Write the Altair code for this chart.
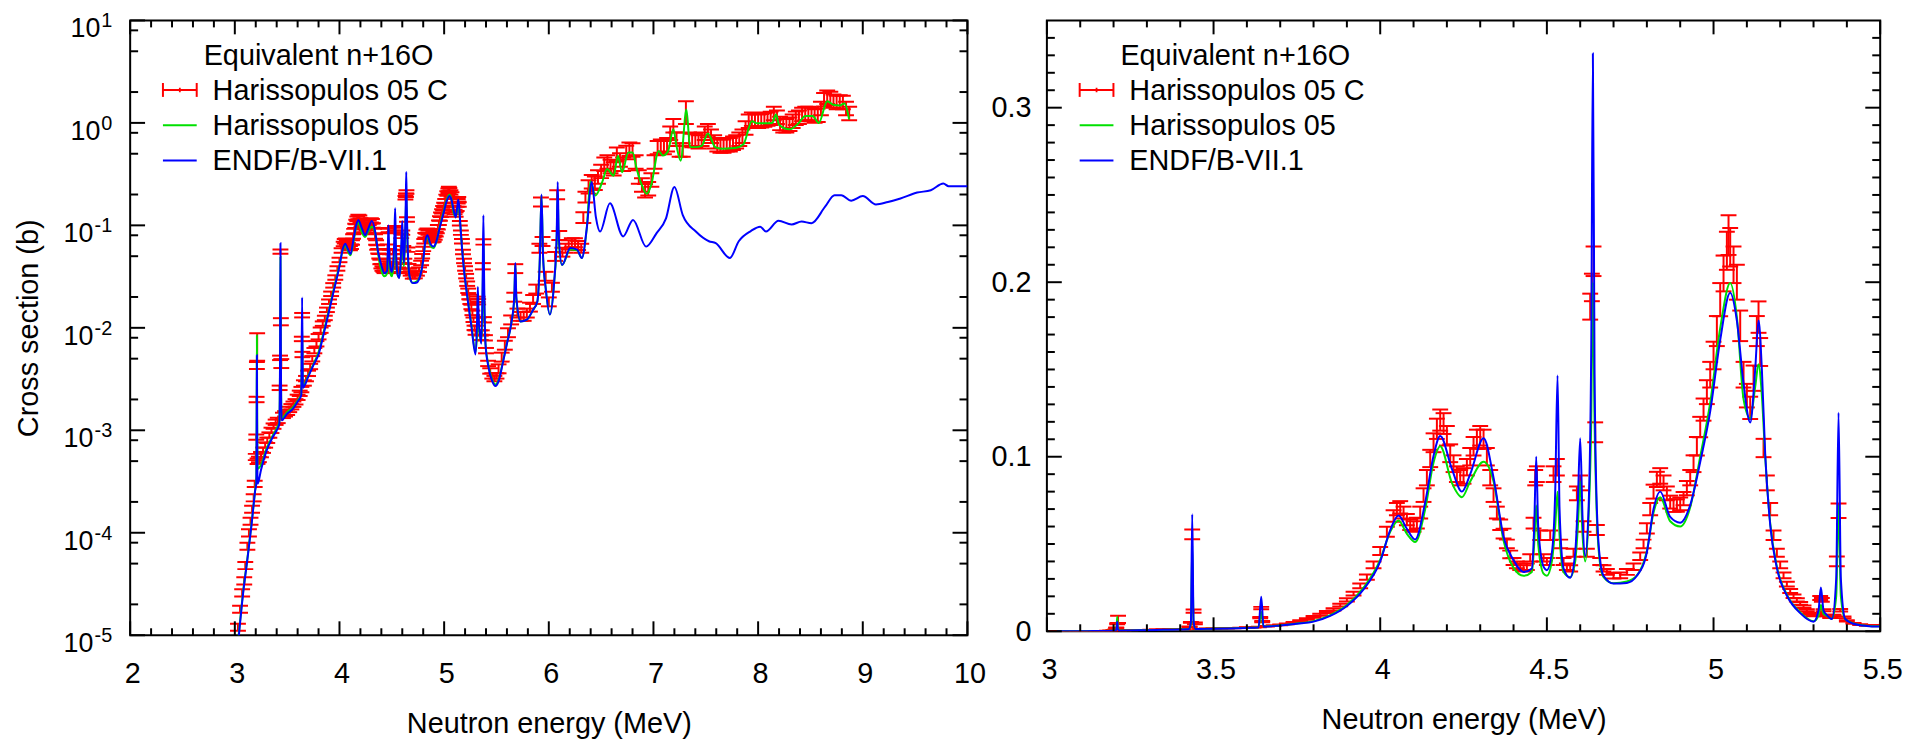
import altair as alt
import pandas as pd

FONT = "Liberation Sans"
RED, GREEN, BLUE = "#ff0000", "#00e000", "#0000ff"
FS = 29

# ---------------- ENDF/B-VII.1 (blue) ----------------
endf_E = [
    3.03, 3.08, 3.12, 3.16, 3.195, 3.206, 3.209, 3.211, 3.213, 3.218,
    3.25, 3.30, 3.36, 3.40, 3.425, 3.432, 3.436, 3.440, 3.446, 3.50,
    3.55, 3.60, 3.635, 3.643, 3.650, 3.70, 3.75, 3.80, 3.85, 3.90,
    3.95, 4.00, 4.03, 4.055, 4.08, 4.105, 4.135, 4.16, 4.18, 4.215,
    4.245, 4.27, 4.31, 4.34, 4.37, 4.40, 4.43, 4.455, 4.462, 4.468,
    4.474, 4.49, 4.50, 4.515, 4.525, 4.532, 4.538, 4.55, 4.57, 4.585,
    4.593, 4.600, 4.607, 4.615, 4.625, 4.633, 4.638, 4.643, 4.65, 4.66,
    4.67, 4.70, 4.74, 4.77, 4.80, 4.82, 4.84, 4.87, 4.90, 4.93,
    4.96, 4.99, 5.02, 5.05, 5.07, 5.09, 5.11, 5.125, 5.135, 5.145,
    5.155, 5.17, 5.19, 5.22, 5.26, 5.30, 5.315, 5.322, 5.33, 5.34,
    5.355, 5.368, 5.375, 5.382, 5.395, 5.42, 5.46, 5.49, 5.52, 5.56,
    5.60, 5.64, 5.67, 5.68, 5.69, 5.73, 5.79, 5.85, 5.89, 5.915,
    5.93, 5.945, 5.97, 6.01, 6.05, 6.075, 6.085, 6.095, 6.126, 6.205,
    6.27, 6.316, 6.363, 6.41, 6.45, 6.49, 6.584, 6.71, 6.805, 6.93,
    7.03, 7.12, 7.20, 7.28, 7.405, 7.53, 7.595, 7.73, 7.815, 7.93,
    8.02, 8.075, 8.195, 8.32, 8.415, 8.51, 8.64, 8.73, 8.795, 8.89,
    9.0, 9.126, 9.24, 9.36, 9.52, 9.65, 9.77, 9.82, 10.0,
]
endf_xs = [
    8.0e-6, 2.6e-5, 5.5e-5, 1.2e-4, 2.6e-4, 3.1e-4, 1.5e-3, 5.4e-3, 1.2e-3, 3.0e-4,
    4.1e-4, 6.2e-4, 8.5e-4, 1.0e-3, 1.15e-3, 5.0e-3, 0.067, 6.0e-3, 1.25e-3, 1.45e-3,
    1.6e-3, 1.9e-3, 2.2e-3, 0.0198, 2.6e-3, 3.3e-3, 4.3e-3, 5.5e-3, 8.8e-3, 0.0145,
    0.024, 0.040, 0.058, 0.0663, 0.0587, 0.0526, 0.0739, 0.1005, 0.1119, 0.093,
    0.080, 0.090, 0.1106, 0.088, 0.0543, 0.0408, 0.034, 0.036, 0.060, 0.100,
    0.060, 0.037, 0.035, 0.045, 0.080, 0.1466, 0.070, 0.036, 0.0306, 0.045,
    0.075, 0.1106, 0.065, 0.043, 0.070, 0.160, 0.331, 0.150, 0.070, 0.040,
    0.0318, 0.0273, 0.0277, 0.0318, 0.0453, 0.070, 0.080, 0.0655, 0.0622, 0.0723,
    0.097, 0.126, 0.1669, 0.1939, 0.178, 0.142, 0.1196, 0.150, 0.178, 0.150,
    0.1016, 0.061, 0.0363, 0.0205, 0.0104, 0.0055, 0.012, 0.025, 0.012, 0.0092,
    0.007, 0.030, 0.1252, 0.030, 0.007, 0.0043, 0.0030, 0.0027, 0.0030, 0.0045,
    0.0070, 0.0108, 0.020, 0.043, 0.020, 0.0115, 0.012, 0.015, 0.018, 0.050,
    0.200, 0.050, 0.0245, 0.0135, 0.027, 0.080, 0.265, 0.080, 0.041, 0.060,
    0.058, 0.048, 0.094, 0.265, 0.120, 0.087, 0.164, 0.078, 0.113, 0.062,
    0.084, 0.117, 0.237, 0.126, 0.087, 0.070, 0.067, 0.048, 0.070, 0.088,
    0.097, 0.087, 0.111, 0.102, 0.109, 0.105, 0.152, 0.197, 0.197, 0.174,
    0.193, 0.160, 0.169, 0.183, 0.209, 0.220, 0.256, 0.241, 0.241,
]

# ---------------- Harissopulos 05 (green) ----------------
h05_E = [
    3.03, 3.08, 3.12, 3.16, 3.195, 3.206, 3.209, 3.211, 3.213, 3.218,
    3.25, 3.30, 3.36, 3.40, 3.425, 3.432, 3.436, 3.440, 3.446, 3.50,
    3.55, 3.60, 3.635, 3.643, 3.650, 3.70, 3.75, 3.80, 3.85, 3.90,
    3.95, 4.00, 4.03, 4.055, 4.08, 4.105, 4.135, 4.16, 4.18, 4.215,
    4.245, 4.27, 4.31, 4.34, 4.37, 4.40, 4.43, 4.455, 4.462, 4.468,
    4.474, 4.49, 4.50, 4.515, 4.525, 4.532, 4.538, 4.55, 4.57, 4.585,
    4.593, 4.600, 4.607, 4.615, 4.625, 4.633, 4.638, 4.643, 4.65, 4.66,
    4.67, 4.70, 4.74, 4.77, 4.80, 4.82, 4.84, 4.87, 4.90, 4.93,
    4.96, 4.99, 5.02, 5.05, 5.07, 5.09, 5.11, 5.125, 5.135, 5.145,
    5.155, 5.17, 5.19, 5.22, 5.26, 5.30, 5.315, 5.322, 5.33, 5.34,
    5.355, 5.368, 5.375, 5.382, 5.395, 5.42, 5.46, 5.49, 5.52, 5.56,
    5.60, 5.64, 5.67, 5.68, 5.69, 5.73, 5.79, 5.85, 5.89, 5.915,
    5.93, 5.945, 5.97, 6.01, 6.05, 6.075, 6.085, 6.095, 6.126, 6.205,
    6.27, 6.316, 6.363, 6.397, 6.445, 6.51, 6.557, 6.62, 6.66, 6.70,
    6.76, 6.80, 6.84, 6.89, 6.936, 6.977, 7.05, 7.09, 7.14, 7.19,
    7.22, 7.26, 7.315, 7.35, 7.40, 7.46, 7.52, 7.59, 7.65, 7.78,
    7.86, 7.94, 7.99, 8.07, 8.135, 8.17, 8.20, 8.30, 8.39, 8.45,
    8.52, 8.58, 8.66, 8.72, 8.78, 8.825, 8.87,
]
h05_xs = [
    8.5e-6, 2.7e-5, 5.6e-5, 1.25e-4, 2.7e-4, 3.6e-4, 2.0e-3, 8.4e-3, 2.0e-3, 4.2e-4,
    4.6e-4, 6.5e-4, 8.8e-4, 1.05e-3, 1.2e-3, 4.0e-3, 0.049, 5.0e-3, 1.3e-3, 1.5e-3,
    1.65e-3, 1.95e-3, 2.25e-3, 0.0112, 2.7e-3, 3.4e-3, 4.4e-3, 5.8e-3, 9.2e-3, 0.015,
    0.025, 0.041, 0.057, 0.0634, 0.0558, 0.0511, 0.070, 0.0967, 0.106, 0.085,
    0.0768, 0.0858, 0.0971, 0.0858, 0.052, 0.0363, 0.0318, 0.034, 0.050, 0.072,
    0.050, 0.033, 0.0318, 0.040, 0.060, 0.080, 0.055, 0.034, 0.031, 0.040,
    0.060, 0.086, 0.055, 0.040, 0.065, 0.120, 0.200, 0.120, 0.065, 0.038,
    0.031, 0.0275, 0.0285, 0.032, 0.046, 0.068, 0.0768, 0.063, 0.060, 0.071,
    0.100, 0.131, 0.1736, 0.1995, 0.180, 0.133, 0.122, 0.140, 0.153, 0.135,
    0.100, 0.062, 0.037, 0.021, 0.0108, 0.0058, 0.009, 0.015, 0.010, 0.0088,
    0.0072, 0.020, 0.072, 0.020, 0.007, 0.0045, 0.0031, 0.0028, 0.0031, 0.0046,
    0.0071, 0.0108, 0.019, 0.041, 0.019, 0.0115, 0.012, 0.015, 0.018, 0.050,
    0.197, 0.050, 0.0245, 0.0135, 0.027, 0.070, 0.200, 0.070, 0.041, 0.058,
    0.057, 0.048, 0.094, 0.270, 0.196, 0.264, 0.355, 0.305, 0.479, 0.330,
    0.514, 0.514, 0.355, 0.245, 0.203, 0.245, 0.533, 0.480, 0.533, 0.865,
    0.597, 0.428, 1.35, 0.580, 0.580, 0.597, 0.790, 0.580, 0.560, 0.570,
    0.620, 1.04, 0.99, 0.99, 1.00, 1.21, 0.96, 0.865, 1.00, 1.17,
    1.17, 1.00, 1.63, 1.50, 1.48, 1.55, 1.08,
]

# ---------------- Harissopulos 05 C (red, with error bars) ----------------
hc_E = [
    3.03, 3.05, 3.07, 3.09, 3.10, 3.12, 3.135, 3.15, 3.165, 3.18,
    3.19, 3.20, 3.205, 3.208, 3.211, 3.2135, 3.217, 3.23, 3.25, 3.27,
    3.29, 3.31, 3.33, 3.35, 3.37, 3.39, 3.41, 3.428, 3.432, 3.436,
    3.440, 3.444, 3.46, 3.48, 3.50, 3.52, 3.54, 3.56, 3.58, 3.60,
    3.62, 3.636, 3.640, 3.643, 3.646, 3.66, 3.68, 3.70, 3.72, 3.74,
    3.76, 3.78, 3.80, 3.82, 3.84, 3.86, 3.88, 3.90, 3.92, 3.94,
    3.96, 3.98, 4.00, 4.02, 4.04, 4.05, 4.06, 4.07, 4.08, 4.09,
    4.10, 4.11, 4.12, 4.13, 4.14, 4.15, 4.16, 4.17, 4.18, 4.19,
    4.20, 4.21, 4.22, 4.23, 4.24, 4.25, 4.26, 4.27, 4.28, 4.29,
    4.30, 4.31, 4.32, 4.33, 4.34, 4.35, 4.36, 4.37, 4.38, 4.39,
    4.40, 4.41, 4.42, 4.43, 4.44, 4.45, 4.46, 4.465, 4.47, 4.48,
    4.49, 4.50, 4.51, 4.52, 4.53, 4.54, 4.55, 4.56, 4.57, 4.58,
    4.59, 4.60, 4.61, 4.62, 4.630, 4.635, 4.640, 4.645, 4.650, 4.66,
    4.67, 4.68, 4.70, 4.72, 4.74, 4.76, 4.78, 4.79, 4.80, 4.81,
    4.82, 4.83, 4.84, 4.85, 4.86, 4.87, 4.88, 4.89, 4.90, 4.91,
    4.92, 4.93, 4.94, 4.95, 4.96, 4.97, 4.98, 4.99, 5.00, 5.01,
    5.02, 5.03, 5.04, 5.045, 5.05, 5.06, 5.07, 5.08, 5.09, 5.10,
    5.11, 5.12, 5.13, 5.135, 5.14, 5.15, 5.16, 5.17, 5.18, 5.19,
    5.20, 5.21, 5.22, 5.23, 5.24, 5.25, 5.26, 5.27, 5.28, 5.29,
    5.30, 5.31, 5.32, 5.325, 5.33, 5.34, 5.35, 5.36, 5.37, 5.375,
    5.38, 5.39, 5.40, 5.42, 5.44, 5.46, 5.48, 5.50, 5.52, 5.55,
    5.58, 5.61, 5.64, 5.67, 5.68, 5.70, 5.73, 5.76, 5.79, 5.82,
    5.85, 5.88, 5.91, 5.925, 5.94, 5.97, 6.00, 6.03, 6.06, 6.08,
    6.10, 6.13, 6.16, 6.19, 6.22, 6.25, 6.28, 6.31, 6.33, 6.35,
    6.38, 6.41, 6.44, 6.47, 6.50, 6.53, 6.56, 6.59, 6.62, 6.65,
    6.68, 6.71, 6.74, 6.77, 6.80, 6.83, 6.86, 6.89, 6.92, 6.95,
    6.98, 7.01, 7.04, 7.07, 7.10, 7.13, 7.16, 7.19, 7.22, 7.25,
    7.28, 7.31, 7.34, 7.37, 7.40, 7.43, 7.46, 7.49, 7.52, 7.55,
    7.58, 7.61, 7.64, 7.67, 7.70, 7.73, 7.76, 7.79, 7.82, 7.85,
    7.88, 7.91, 7.94, 7.97, 8.00, 8.03, 8.06, 8.09, 8.12, 8.15,
    8.18, 8.21, 8.24, 8.27, 8.30, 8.33, 8.36, 8.39, 8.42, 8.45,
    8.48, 8.51, 8.54, 8.57, 8.60, 8.63, 8.66, 8.69, 8.72, 8.75,
    8.78, 8.81, 8.84, 8.87,
]
hc_xs = [
    1.2e-5, 1.8e-5, 2.6e-5, 3.4e-5, 4.8e-5, 7.4e-5, 1.0e-4, 1.3e-4, 1.7e-4, 2.2e-4,
    3.0e-4, 5.5e-4, 8.6e-4, 2.0e-3, 4.3e-3, 6.8e-3, 5.0e-4, 5.2e-4, 5.8e-4, 6.4e-4,
    7.2e-4, 8.0e-4, 9.0e-4, 1.0e-3, 1.1e-3, 1.2e-3, 1.25e-3, 2.6e-3, 5.1e-3, 0.0555,
    0.0115, 4.5e-3, 1.4e-3, 1.45e-3, 1.5e-3, 1.6e-3, 1.7e-3, 1.8e-3, 1.9e-3, 2.1e-3,
    2.3e-3, 2.5e-3, 7.8e-3, 0.0133, 5.5e-3, 2.9e-3, 3.2e-3, 3.6e-3, 4.2e-3, 5.0e-3,
    6.0e-3, 7.0e-3, 8.2e-3, 9.5e-3, 0.011, 0.0125, 0.015, 0.018, 0.0215, 0.026,
    0.031, 0.038, 0.046, 0.057, 0.066, 0.070, 0.071, 0.068, 0.064, 0.061,
    0.060, 0.062, 0.068, 0.078, 0.088, 0.099, 0.108, 0.116, 0.121, 0.119,
    0.112, 0.102, 0.096, 0.090, 0.088, 0.089, 0.094, 0.100, 0.106, 0.110,
    0.112, 0.110, 0.100, 0.088, 0.078, 0.068, 0.061, 0.056, 0.050, 0.044,
    0.040, 0.038, 0.037, 0.036, 0.037, 0.042, 0.062, 0.088, 0.090, 0.055,
    0.042, 0.040, 0.055, 0.090, 0.094, 0.050, 0.040, 0.037, 0.036, 0.045,
    0.079, 0.085, 0.060, 0.045, 0.186, 0.197, 0.212, 0.114, 0.058, 0.040,
    0.036, 0.034, 0.0318, 0.032, 0.034, 0.037, 0.043, 0.050, 0.059, 0.070,
    0.080, 0.087, 0.089, 0.085, 0.079, 0.074, 0.072, 0.072, 0.073, 0.076,
    0.082, 0.088, 0.096, 0.106, 0.117, 0.127, 0.137, 0.147, 0.158, 0.172,
    0.190, 0.205, 0.218, 0.227, 0.220, 0.210, 0.200, 0.175, 0.147, 0.135,
    0.128, 0.145, 0.172, 0.180, 0.160, 0.105, 0.085, 0.070, 0.055, 0.045,
    0.038, 0.032, 0.027, 0.023, 0.020, 0.018, 0.016, 0.014, 0.012, 0.010,
    0.009, 0.010, 0.019, 0.018, 0.012, 0.009, 0.008, 0.009, 0.040, 0.069,
    0.012, 0.008, 0.006, 0.0045, 0.0038, 0.0034, 0.0032, 0.0034, 0.0040, 0.0052,
    0.0068, 0.0090, 0.012, 0.020, 0.038, 0.014, 0.013, 0.013, 0.014, 0.016,
    0.019, 0.024, 0.060, 0.17, 0.07, 0.032, 0.018, 0.025, 0.05, 0.20,
    0.08, 0.055, 0.060, 0.065, 0.068, 0.068, 0.064, 0.060, 0.12, 0.19,
    0.24, 0.27, 0.26, 0.30, 0.34, 0.40, 0.42, 0.38, 0.36, 0.50,
    0.44, 0.40, 0.52, 0.56, 0.55, 0.42, 0.30, 0.25, 0.22, 0.23,
    0.28, 0.42, 0.58, 0.60, 0.58, 0.62, 0.80, 0.95, 0.70, 0.55,
    0.55, 1.30, 0.70, 0.68, 0.68, 0.66, 0.70, 0.80, 0.85, 0.75,
    0.66, 0.62, 0.60, 0.60, 0.62, 0.62, 0.64, 0.66, 0.70, 0.75,
    0.90, 1.05, 1.10, 1.08, 1.05, 1.06, 1.08, 1.10, 1.12, 1.25,
    1.15, 1.00, 0.95, 0.95, 0.98, 1.05, 1.12, 1.15, 1.22, 1.25,
    1.25, 1.22, 1.18, 1.20, 1.40, 1.70, 1.80, 1.75, 1.65, 1.60,
    1.62, 1.60, 1.40, 1.25,
]
hc_err_pct = [
    8, 8, 8, 8, 8, 8, 8, 8, 8, 8,
    7, 7, 6, 6, 8, 30, 6, 6, 6, 6,
    6, 6, 6, 6, 6, 6, 6, 5, 5, 5,
    8, 10, 6, 6, 6, 6, 6, 6, 6, 6,
    6, 6, 5, 5, 6, 6, 6, 6, 6, 6,
    6, 6, 6, 6, 5, 5, 5, 5, 5, 5,
    5, 5, 5, 5, 5, 5, 5, 5, 5, 5,
    5, 5, 5, 5, 5, 5, 5, 5, 5, 5,
    5, 5, 5, 5, 5, 5, 5, 5, 5, 5,
    5, 5, 5, 5, 5, 5, 5, 5, 5, 5,
    5, 5, 5, 5, 5, 5, 5, 5, 5, 5,
    5, 5, 5, 5, 5, 5, 5, 5, 5, 5,
    5, 5, 5, 5, 4, 4, 4, 5, 5, 5,
    5, 5, 5, 5, 5, 5, 5, 5, 5, 5,
    5, 5, 5, 5, 5, 5, 5, 5, 5, 5,
    5, 5, 5, 5, 5, 5, 5, 5, 5, 5,
    5, 5, 5, 5, 5, 5, 5, 5, 5, 5,
    5, 5, 5, 5, 5, 5, 5, 5, 5, 5,
    5, 5, 5, 5, 5, 5, 5, 5, 5, 5,
    5, 5, 6, 6, 5, 5, 5, 5, 7, 6,
    6, 6, 6, 6, 6, 6, 6, 6, 10, 10,
    10, 10, 10, 10, 10, 10, 10, 10, 10, 10,
    10, 10, 10, 10, 10, 10, 10, 10, 10, 10,
    10, 10, 10, 10, 10, 10, 10, 10, 12, 12,
    15, 15, 15, 15, 15, 15, 15, 15, 15, 15,
    15, 15, 15, 15, 15, 15, 15, 15, 15, 15,
    15, 15, 15, 15, 15, 15, 15, 15, 15, 15,
    15, 25, 15, 15, 15, 15, 15, 15, 15, 15,
    15, 15, 15, 15, 15, 15, 15, 15, 15, 15,
    15, 15, 15, 15, 15, 15, 15, 15, 15, 15,
    15, 15, 15, 15, 15, 15, 15, 15, 15, 15,
    15, 15, 15, 15, 15, 15, 15, 15, 15, 15,
    15, 15, 15, 15,
]

# ---------------- axes: tick values and labels ----------------
left_x_major = [2, 3, 4, 5, 6, 7, 8, 9, 10]
left_x_minor = [round(2 + 0.2 * i, 1) for i in range(41) if i % 5]
left_y_major = [1e-5, 1e-4, 1e-3, 1e-2, 1e-1, 1.0, 10.0]
left_y_exp = ["-5", "-4", "-3", "-2", "-1", "0", "1"]
left_y_minor = [m * 10.0 ** k for k in range(-5, 1) for m in (2, 5, 8)]

right_x_major = [3, 3.5, 4, 4.5, 5, 5.5]
right_x_minor = [round(3 + 0.1 * i, 1) for i in range(26) if i % 5]
right_y_major = [0, 0.1, 0.2, 0.3]
right_y_minor = [round(0.01 * i, 2) for i in range(1, 35) if i % 10]

legend_title = "Equivalent n+16O"
series_names = ["Harissopulos 05 C", "Harissopulos 05", "ENDF/B-VII.1"]

# ---------------- frames ----------------
endf = pd.DataFrame({"E": endf_E, "xs": endf_xs})
h05 = pd.DataFrame({"E": h05_E, "xs": h05_xs})
hc = pd.DataFrame({"E": hc_E, "xs": hc_xs, "pct": hc_err_pct})
hc["lo"] = hc["xs"] * (1 - hc["pct"] / 100.0)
hc["hi"] = hc["xs"] * (1 + hc["pct"] / 100.0)
hc_caps = pd.concat(
    [pd.DataFrame({"E": hc["E"], "v": hc["lo"]}), pd.DataFrame({"E": hc["E"], "v": hc["hi"]})],
    ignore_index=True,
)
one = pd.DataFrame({"k": [0]})


def legend_layers():
    L = []
    L.append(alt.Chart(one).mark_text(align="left", baseline="middle", fontSize=FS, color="black",
                                      text=legend_title).encode(x=alt.value(74), y=alt.value(36)))
    for name, yy in zip(series_names, (71, 106.5, 142)):
        L.append(alt.Chart(one).mark_text(align="left", baseline="middle", fontSize=FS, color="black",
                                          text=name).encode(x=alt.value(83), y=alt.value(yy)))
    # red error-bar symbol
    L.append(alt.Chart(one).mark_rule(color=RED, strokeWidth=2).encode(
        x=alt.value(33), x2=alt.value(67), y=alt.value(70)))
    L.append(alt.Chart(one).mark_rule(color=RED, strokeWidth=2).encode(
        x=alt.value(33), y=alt.value(63), y2=alt.value(77)))
    L.append(alt.Chart(one).mark_rule(color=RED, strokeWidth=2).encode(
        x=alt.value(67), y=alt.value(63), y2=alt.value(77)))
    L.append(alt.Chart(one).mark_point(shape="cross", size=20, filled=True, color=RED, opacity=1).encode(
        x=alt.value(50), y=alt.value(70)))
    L.append(alt.Chart(one).mark_rule(color=GREEN, strokeWidth=2).encode(
        x=alt.value(33), x2=alt.value(67), y=alt.value(105.5)))
    L.append(alt.Chart(one).mark_rule(color=BLUE, strokeWidth=2).encode(
        x=alt.value(33), x2=alt.value(67), y=alt.value(141)))
    return L


def panel(W, H, xs, ys, xaxis, yaxis, emax, xt_major, xt_minor, yt_major, yt_minor, extra):
    def X(f):
        return alt.X(f, type="quantitative", scale=xs, axis=xaxis)

    def Y(f):
        return alt.Y(f, type="quantitative", scale=ys, axis=yaxis)

    def sub(df):
        return df[df["E"] <= emax]

    layers = [
        alt.Chart(sub(hc)).mark_rule(color=RED, strokeWidth=2, clip=True).encode(
            x=X("E"), y=Y("lo"), y2=alt.Y2("hi")),
        alt.Chart(sub(hc_caps)).mark_tick(color=RED, orient="horizontal", size=16, thickness=2,
                                          clip=True, opacity=1).encode(x=X("E"), y=Y("v")),
        alt.Chart(sub(h05)).mark_line(color=GREEN, strokeWidth=2, clip=True,
                                      interpolate="monotone").encode(x=X("E"), y=Y("xs")),
        alt.Chart(sub(endf)).mark_line(color=BLUE, strokeWidth=2, clip=True,
                                       interpolate="monotone").encode(x=X("E"), y=Y("xs")),
    ]
    for vals, L in ((xt_major, 14), (xt_minor, 7)):
        d = pd.DataFrame({"v": vals})
        layers.append(alt.Chart(d).mark_rule(color="black", strokeWidth=2).encode(
            x=X("v"), y=alt.value(H), y2=alt.value(H - L)))
        layers.append(alt.Chart(d).mark_rule(color="black", strokeWidth=2).encode(
            x=X("v"), y=alt.value(0), y2=alt.value(L)))
    for vals, L in ((yt_major, 15), (yt_minor, 8)):
        d = pd.DataFrame({"v": vals})
        layers.append(alt.Chart(d).mark_rule(color="black", strokeWidth=2).encode(
            y=Y("v"), x=alt.value(0), x2=alt.value(L)))
        layers.append(alt.Chart(d).mark_rule(color="black", strokeWidth=2).encode(
            y=Y("v"), x=alt.value(W), x2=alt.value(W - L)))
    layers += legend_layers()
    layers += [e(Y) for e in extra]
    return alt.layer(*layers).properties(width=W, height=H)


def xaxis_for(values, fmt):
    return alt.Axis(values=values, format=fmt, title="Neutron energy (MeV)", ticks=False, domain=False,
                    grid=False, labelFontSize=FS, labelPadding=25, labelOffset=2, labelFlush=False,
                    labelOverlap=False, titleFontSize=FS, titleFontWeight="normal", titlePadding=21,
                    labelColor="black", titleColor="black")


# ---------------- left panel (log) ----------------
LW, LH = 843, 619
l_xs = alt.Scale(domain=[2, 10], nice=False, zero=False)
l_ys = alt.Scale(type="log", domain=[1e-5, 10], nice=False)
l_yaxis = alt.Axis(labels=False, ticks=False, domain=False, grid=False, title="Cross section (b)",
                   titleFontSize=FS, titleFontWeight="normal", titlePadding=87, titleColor="black")
ylab = pd.DataFrame({"v": left_y_major, "exp": left_y_exp})


def lab_neg(Y):
    return alt.Chart(ylab[ylab["v"] < 1]).mark_text(align="right", baseline="middle", fontSize=27,
                                                   dy=9, text="10", color="black").encode(
        x=alt.value(-37), y=Y("v"))


def lab_pos(Y):
    return alt.Chart(ylab[ylab["v"] >= 1]).mark_text(align="right", baseline="middle", fontSize=27,
                                                    dy=9, text="10", color="black").encode(
        x=alt.value(-30), y=Y("v"))


def lab_exp(Y):
    return alt.Chart(ylab).mark_text(align="right", baseline="middle", fontSize=20, dy=1,
                                     color="black").encode(
        x=alt.value(-18), y=Y("v"), text="exp:N")


left = panel(LW, LH, l_xs, l_ys, xaxis_for(left_x_major, "d"), l_yaxis, 99,
             left_x_major, left_x_minor, left_y_major, left_y_minor, [lab_neg, lab_pos, lab_exp])

# ---------------- right panel (linear) ----------------
RW, RH = 839, 615
r_xs = alt.Scale(domain=[3, 5.5], nice=False, zero=False)
r_ys = alt.Scale(domain=[0, 0.35], nice=False, zero=False)
r_yaxis = alt.Axis(values=right_y_major, labelExpr="datum.value == 0 ? '0' : format(datum.value, '.1f')",
                   title="", ticks=False, domain=False, grid=False, labelFontSize=FS, labelPadding=16,
                   labelFlush=False, labelOverlap=False, labelColor="black")
right = panel(RW, RH, r_xs, r_ys, xaxis_for(right_x_major, "~g"), r_yaxis, 5.53,
              right_x_major, right_x_minor, right_y_major, right_y_minor, [])

chart = alt.hconcat(left, right, spacing=80, bounds="flush").properties(
    padding={"left": 6, "top": 0, "right": 5, "bottom": 0}
).configure(font=FONT).configure_view(stroke="black", strokeWidth=2)

chart.save("out.html", embed_options={"renderer": "svg", "actions": False})
